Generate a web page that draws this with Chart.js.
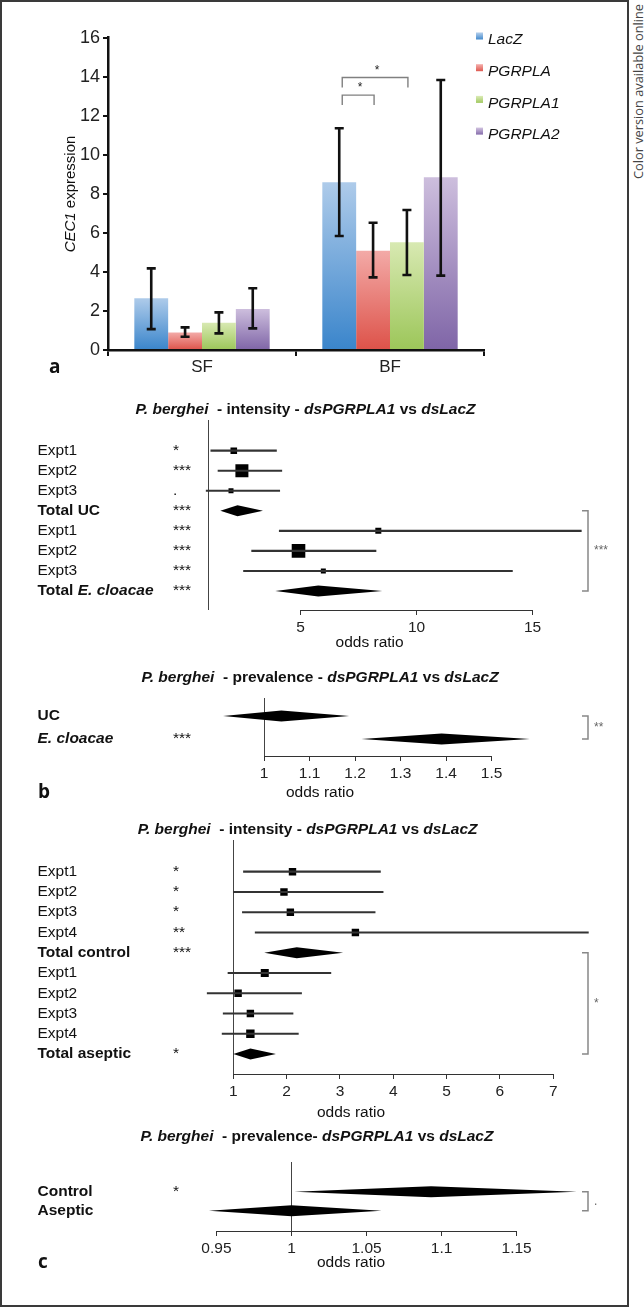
<!DOCTYPE html>
<html>
<head>
<meta charset="utf-8">
<script src="https://cdn.jsdelivr.net/npm/chart.js@4.4.0/dist/chart.umd.min.js"></script>
<style>
  html, body { margin: 0; padding: 0; background: #fff; }
  #page { position: relative; width: 644px; height: 1310px; overflow: hidden; }
  #frame { position: absolute; left: 0; top: 0; width: 625px; height: 1303px; border: 2px solid #3a3a3a; }
  canvas { position: absolute; left: 0; }
  #side {
    position: absolute; left: 629px; top: 244px; width: 240px; height: 15px; line-height: 15px;
    font: 12.8px "Open Sans", sans-serif; color: #444; text-align: right; white-space: nowrap;
    transform-origin: 0 0; transform: rotate(-90deg);
  }
</style>
</head>
<body>
<div id="page">
  <div id="frame"></div>
  <div id="side">Color version available online</div>
  <canvas id="chartA" width="628" height="380" style="top:0px"></canvas>
  <canvas id="chartB1" width="628" height="260" style="top:395px"></canvas>
  <canvas id="chartB2" width="628" height="140" style="top:665px"></canvas>
  <canvas id="chartC1" width="628" height="310" style="top:815px"></canvas>
  <canvas id="chartC2" width="628" height="150" style="top:1125px"></canvas>
</div>
<script>
// panel a - CEC1 expression
const groups = ['SF', 'BF'];
const seriesNames = ['LacZ', 'PGRPLA', 'PGRPLA1', 'PGRPLA2'];
const lacZ = [2.65, 8.6];
const pgrpla = [0.9, 5.09];
const pgrpla1 = [1.4, 5.52];
const pgrpla2 = [2.1, 8.85];
const lacZLow = [1.07, 5.84];
const lacZHigh = [4.18, 11.36];
const pgrplaLow = [0.68, 3.72];
const pgrplaHigh = [1.16, 6.52];
const pgrpla1Low = [0.85, 3.84];
const pgrpla1High = [1.93, 7.17];
const pgrpla2Low = [1.11, 3.81];
const pgrpla2High = [3.16, 13.83];

// panel b - intensity
const b1Labels = ['Expt1', 'Expt2', 'Expt3', 'Total UC', 'Expt1', 'Expt2', 'Expt3', 'Total E. cloacae'];
const b1Stars = ['*', '***', '.', '***', '***', '***', '***', '***'];
const b1Est = [2.12, 2.47, 2.0, 2.28, 8.35, 4.91, 5.98, 5.76];
const b1Low = [1.13, 1.44, 0.93, 1.54, 4.08, 2.89, 2.54, 3.91];
const b1High = [3.96, 4.19, 4.1, 3.38, 17.1, 8.25, 14.13, 8.52];
const b1Weight = [0.33, 0.65, 0.25, null, 0.3, 0.68, 0.25, null];
const b1Summary = [false, false, false, true, false, false, false, true];
const b1Ticks = [5, 10, 15];

// panel b - prevalence
const b2Labels = ['UC', 'E. cloacae'];
const b2Stars = ['', '***'];
const b2Est = [1.038, 1.39];
const b2Low = [0.91, 1.214];
const b2High = [1.187, 1.584];
const b2Weight = [null, null];
const b2Summary = [true, true];
const b2Ticks = [1, 1.1, 1.2, 1.3, 1.4, 1.5];

// panel c - intensity
const c1Labels = ['Expt1', 'Expt2', 'Expt3', 'Expt4', 'Total control', 'Expt1', 'Expt2', 'Expt3', 'Expt4', 'Total aseptic'];
const c1Stars = ['*', '*', '*', '**', '***', '', '', '', '', '*'];
const c1Est = [2.11, 1.95, 2.07, 3.29, 2.19, 1.59, 1.09, 1.32, 1.32, 1.32];
const c1Low = [1.19, 1.0, 1.17, 1.41, 1.58, 0.9, 0.51, 0.81, 0.79, 1.0];
const c1High = [3.76, 3.81, 3.66, 7.66, 3.06, 2.83, 2.28, 2.12, 2.22, 1.8];
const c1Weight = [0.37, 0.37, 0.37, 0.37, null, 0.4, 0.37, 0.37, 0.42, null];
const c1Summary = [false, false, false, false, true, false, false, false, false, true];
const c1Ticks = [1, 2, 3, 4, 5, 6, 7];

// panel c - prevalence
const c2Labels = ['Control', 'Aseptic'];
const c2Stars = ['*', ''];
const c2Est = [1.093, 1.0];
const c2Low = [1.002, 0.945];
const c2High = [1.19, 1.06];
const c2Weight = [null, null];
const c2Summary = [true, true];
const c2Ticks = [0.95, 1, 1.05, 1.1, 1.15];

const SANS = '"Liberation Sans", Arial, Helvetica, sans-serif';
const LETTER = 'bold 19px "Open Sans", sans-serif';

function richText(ctx, parts, x, y, align) {
  let w = 0;
  parts.forEach(p => { ctx.font = p[1]; w += ctx.measureText(p[0]).width; });
  let cx = align === 'center' ? x - w / 2 : x;
  ctx.textAlign = 'left';
  parts.forEach(p => {
    ctx.font = p[1];
    ctx.fillText(p[0], cx, y);
    cx += ctx.measureText(p[0]).width;
  });
}

// split a string so that the matched words get the italic font
function italicParts(str, re, plain, italic) {
  return str.split(re).filter(s => s !== '').map(s => [s, re.test(s) ? italic : plain]);
}

// ---------- panel a ----------
const values = [lacZ, pgrpla, pgrpla1, pgrpla2];
const lows = [lacZLow, pgrplaLow, pgrpla1Low, pgrpla2Low];
const highs = [lacZHigh, pgrplaHigh, pgrpla1High, pgrpla2High];
const shades = [['#aecbea', '#3a85cb'], ['#f3aaa7', '#dd5249'], ['#d8e9b2', '#9cc659'], ['#cdbedd', '#7f65a7']];

function barFill(i) {
  return ctx => {
    const chart = ctx.chart;
    const y = chart.scales.y;
    if (!y || typeof ctx.raw !== 'number') return shades[i][1];
    const top = y.getPixelForValue(ctx.raw);
    const bottom = y.getPixelForValue(0);
    if (!isFinite(top) || !isFinite(bottom) || top === bottom) return shades[i][1];
    const g = chart.ctx.createLinearGradient(0, top, 0, bottom);
    g.addColorStop(0, shades[i][0]);
    g.addColorStop(1, shades[i][1]);
    return g;
  };
}

const panelAExtras = {
  id: 'panelAExtras',
  afterDatasetsDraw(chart) {
    const { ctx, scales: { y } } = chart;
    ctx.save();
    // error bars
    ctx.strokeStyle = '#111';
    ctx.lineWidth = 2.6;
    chart.data.datasets.forEach((ds, i) => {
      chart.getDatasetMeta(i).data.forEach((bar, j) => {
        const lo = y.getPixelForValue(lows[i][j]);
        const hi = y.getPixelForValue(highs[i][j]);
        ctx.beginPath();
        ctx.moveTo(bar.x, lo); ctx.lineTo(bar.x, hi);
        ctx.moveTo(bar.x - 4.5, lo); ctx.lineTo(bar.x + 4.5, lo);
        ctx.moveTo(bar.x - 4.5, hi); ctx.lineTo(bar.x + 4.5, hi);
        ctx.stroke();
      });
    });
    // significance brackets in BF
    const bf = 1;
    const x0 = chart.getDatasetMeta(0).data[bf].x + 3;
    const sig = [[1, 13.06], [2, 13.96]];
    ctx.strokeStyle = '#808080';
    ctx.lineWidth = 1.4;
    ctx.fillStyle = '#222';
    sig.forEach(([k, level]) => {
      const x1 = chart.getDatasetMeta(k).data[bf].x + 1;
      const yt = y.getPixelForValue(level);
      ctx.beginPath();
      ctx.moveTo(x0, yt + 10); ctx.lineTo(x0, yt); ctx.lineTo(x1, yt); ctx.lineTo(x1, yt + 10);
      ctx.stroke();
      ctx.font = '12px ' + SANS;
      ctx.textAlign = 'center';
      ctx.textBaseline = 'middle';
      ctx.fillText('*', (x0 + x1) / 2 + 2, yt - 7);
    });
    // legend
    ctx.textBaseline = 'middle';
    seriesNames.forEach((name, i) => {
      const ty = 40 + i * 31.7;
      const g = ctx.createLinearGradient(0, ty - 7, 0, ty);
      g.addColorStop(0, shades[i][0]);
      g.addColorStop(1, shades[i][1]);
      ctx.fillStyle = g;
      ctx.fillRect(476, ty - 7.5, 7, 7);
      ctx.fillStyle = '#111';
      ctx.font = 'italic 15.5px ' + SANS;
      ctx.textAlign = 'left';
      ctx.fillText(name, 488, ty);
    });
    // y title
    ctx.save();
    ctx.translate(71, 194);
    ctx.rotate(-Math.PI / 2);
    ctx.fillStyle = '#111';
    richText(ctx, [['CEC1', 'italic 15px ' + SANS], [' expression', '15px ' + SANS]], 0, 0, 'center');
    ctx.restore();
    // panel letter
    ctx.font = LETTER;
    ctx.textAlign = 'left';
    ctx.fillStyle = '#111';
    ctx.fillText('a', 49, 368);
    ctx.restore();
  }
};

new Chart(document.getElementById('chartA'), {
  type: 'bar',
  data: {
    labels: groups,
    datasets: seriesNames.map((name, i) => ({
      label: name,
      data: values[i],
      backgroundColor: barFill(i),
      borderWidth: 0,
      barPercentage: 1,
      categoryPercentage: 0.72
    }))
  },
  options: {
    responsive: false,
    animation: false,
    events: [],
    layout: { padding: { left: 40, right: 144, top: 37.7, bottom: 0 } },
    plugins: { legend: { display: false }, tooltip: { enabled: false } },
    scales: {
      x: {
        grid: { display: true, drawOnChartArea: false, drawTicks: true, tickLength: 6, color: '#111', lineWidth: 2, offset: true },
        border: { display: true, color: '#111', width: 2.5 },
        ticks: { font: { family: SANS, size: 17 }, color: '#222', padding: 1 },
        afterFit: s => { s.height = 30; }
      },
      y: {
        min: 0, max: 16,
        ticks: { stepSize: 2, font: { family: SANS, size: 18 }, color: '#222', padding: 3 },
        grid: { drawOnChartArea: false, drawTicks: true, tickLength: 5, color: '#111', lineWidth: 2 },
        border: { display: true, color: '#111', width: 2.5 },
        afterFit: s => { s.width = 68; }
      }
    }
  },
  plugins: [panelAExtras]
});

// ---------- forest plots ----------
function forestChart(id, f) {
  const rows = f.labels.map((_, i) => i);
  const studies = rows.filter(i => !f.summary[i]);
  const plain = '15.5px ' + SANS;
  const bold = 'bold 15.5px ' + SANS;
  const boldItalic = 'italic bold 15.5px ' + SANS;

  const decor = {
    id: 'forestDecor',
    beforeDatasetsDraw(chart) {
      const { ctx, chartArea, scales: { x } } = chart;
      const rx = Math.round(x.getPixelForValue(f.ref)) + 0.5;
      ctx.save();
      ctx.strokeStyle = '#444';
      ctx.lineWidth = 1;
      ctx.beginPath();
      ctx.moveTo(rx, chartArea.top); ctx.lineTo(rx, chartArea.bottom);
      ctx.stroke();
      ctx.restore();
    },
    afterDatasetsDraw(chart) {
      const { ctx, chartArea, scales: { x, y } } = chart;
      ctx.save();
      // summary diamonds
      ctx.fillStyle = '#000';
      rows.filter(i => f.summary[i]).forEach(i => {
        const py = y.getPixelForValue(i);
        ctx.beginPath();
        ctx.moveTo(x.getPixelForValue(f.low[i]), py);
        ctx.lineTo(x.getPixelForValue(f.est[i]), py - 5.5);
        ctx.lineTo(x.getPixelForValue(f.high[i]), py);
        ctx.lineTo(x.getPixelForValue(f.est[i]), py + 5.5);
        ctx.closePath();
        ctx.fill();
      });
      // axis line between first and last tick
      const ay = Math.round(chartArea.bottom) + 0.5;
      ctx.strokeStyle = '#333';
      ctx.lineWidth = 1;
      ctx.beginPath();
      ctx.moveTo(x.getPixelForValue(f.ticks[0]), ay);
      ctx.lineTo(x.getPixelForValue(f.ticks[f.ticks.length - 1]), ay);
      ctx.stroke();
      // row labels and stars
      ctx.fillStyle = '#111';
      ctx.textBaseline = 'middle';
      rows.forEach(i => {
        const py = y.getPixelForValue(i);
        const base = f.summary[i] ? bold : plain;
        const ital = f.summary[i] ? boldItalic : 'italic ' + plain;
        richText(ctx, italicParts(f.labels[i], /(E\. cloacae)/, base, ital), 37.5, py, 'left');
        ctx.font = plain;
        ctx.fillText(f.stars[i], 173, py);
      });
      // title
      richText(ctx, italicParts(f.title, /(P\. berghei|ds[A-Za-z0-9]+)/, bold, boldItalic), f.titleX, f.titleY, 'center');
      // x label
      ctx.font = plain;
      ctx.textAlign = 'center';
      ctx.fillText('odds ratio', f.xlabX, f.xlabY);
      // bracket between the summaries
      const ya = y.getPixelForValue(f.bracket[0]);
      const yb = y.getPixelForValue(f.bracket[1]);
      ctx.strokeStyle = '#888';
      ctx.lineWidth = 1.5;
      ctx.beginPath();
      ctx.moveTo(582, ya); ctx.lineTo(588, ya); ctx.lineTo(588, yb); ctx.lineTo(582, yb);
      ctx.stroke();
      ctx.fillStyle = '#666';
      ctx.font = '12px ' + SANS;
      ctx.textAlign = 'left';
      ctx.fillText(f.bracketText, 594, (ya + yb) / 2);
      // panel letter
      if (f.letter) {
        ctx.font = LETTER;
        ctx.fillStyle = '#111';
        ctx.fillText(f.letter, 38, f.xlabY);
      }
      ctx.restore();
    }
  };

  new Chart(document.getElementById(id), {
    type: 'scatter',
    data: {
      datasets: [
        {
          type: 'bar',
          indexAxis: 'y',
          data: studies.map(i => ({ y: i, x: [f.low[i], f.high[i]] })),
          backgroundColor: '#333',
          borderWidth: 0,
          barThickness: 1.5
        },
        {
          type: 'scatter',
          data: studies.map(i => ({ x: f.est[i], y: i })),
          pointStyle: 'rect',
          backgroundColor: '#000',
          borderWidth: 0,
          pointRadius: ctx => (f.weight[studies[ctx.dataIndex]] || 0) * 20 / Math.SQRT2
        }
      ]
    },
    options: {
      responsive: false,
      animation: false,
      events: [],
      layout: { padding: f.pad },
      plugins: { legend: { display: false }, tooltip: { enabled: false } },
      scales: {
        x: {
          type: 'linear',
          offset: false,
          min: f.xMin, max: f.xMax,
          afterBuildTicks: s => { s.ticks = f.ticks.map(v => ({ value: v })); },
          ticks: { font: { family: SANS, size: 15.5 }, color: '#222', padding: 3, autoSkip: false, maxRotation: 0, callback: v => String(v) },
          grid: { offset: false, drawOnChartArea: false, drawTicks: true, tickLength: 5, color: '#333', lineWidth: 1 },
          border: { display: false },
          afterFit: s => { s.height = 22; }
        },
        y: { type: 'linear', display: false, offset: false, grid: { offset: false }, reverse: true, min: f.yMin, max: f.yMax }
      }
    },
    plugins: [decor]
  });
}

forestChart('chartB1', {
  labels: b1Labels, stars: b1Stars, est: b1Est, low: b1Low, high: b1High, weight: b1Weight, summary: b1Summary,
  ticks: b1Ticks, ref: 1, xMin: 0.5, xMax: 17.5, yMin: -1.532, yMax: 7.948,
  pad: { left: 196.2, right: 37.4, top: 25, bottom: 23 },
  title: 'P. berghei  - intensity - dsPGRPLA1 vs dsLacZ', titleX: 305.5, titleY: 15,
  xlabX: 369.6, xlabY: 248, bracket: [3, 7], bracketText: '***'
});

forestChart('chartB2', {
  labels: b2Labels, stars: b2Stars, est: b2Est, low: b2Low, high: b2High, weight: b2Weight, summary: b2Summary,
  ticks: b2Ticks, ref: 1, xMin: 0.8, xMax: 1.65, yMin: -0.783, yMax: 1.739,
  pad: { left: 173, right: 68.1, top: 33, bottom: 27 },
  title: 'P. berghei  - prevalence - dsPGRPLA1 vs dsLacZ', titleX: 320, titleY: 13,
  xlabX: 320, xlabY: 128, bracket: [0, 1], bracketText: '**', letter: 'b'
});

forestChart('chartC1', {
  labels: c1Labels, stars: c1Stars, est: c1Est, low: c1Low, high: c1High, weight: c1Weight, summary: c1Summary,
  ticks: c1Ticks, ref: 1, xMin: 0.3, xMax: 8, yMin: -1.565, yMax: 9.987,
  pad: { left: 196, right: 21.5, top: 25, bottom: 29 },
  title: 'P. berghei  - intensity - dsPGRPLA1 vs dsLacZ', titleX: 307.6, titleY: 15,
  xlabX: 351, xlabY: 298, bracket: [4, 9], bracketText: '*'
});

forestChart('chartC2', {
  labels: c2Labels, stars: c2Stars, est: c2Est, low: c2Low, high: c2High, weight: c2Weight, summary: c2Summary,
  ticks: c2Ticks, ref: 1, xMin: 0.93, xMax: 1.2, yMin: -1.563, yMax: 2.068,
  pad: { left: 186.4, right: 36.3, top: 37, bottom: 22 },
  title: 'P. berghei  - prevalence- dsPGRPLA1 vs dsLacZ', titleX: 317, titleY: 12,
  xlabX: 351, xlabY: 138, bracket: [0, 1], bracketText: '.', letter: 'c'
});
</script>
</body>
</html>
